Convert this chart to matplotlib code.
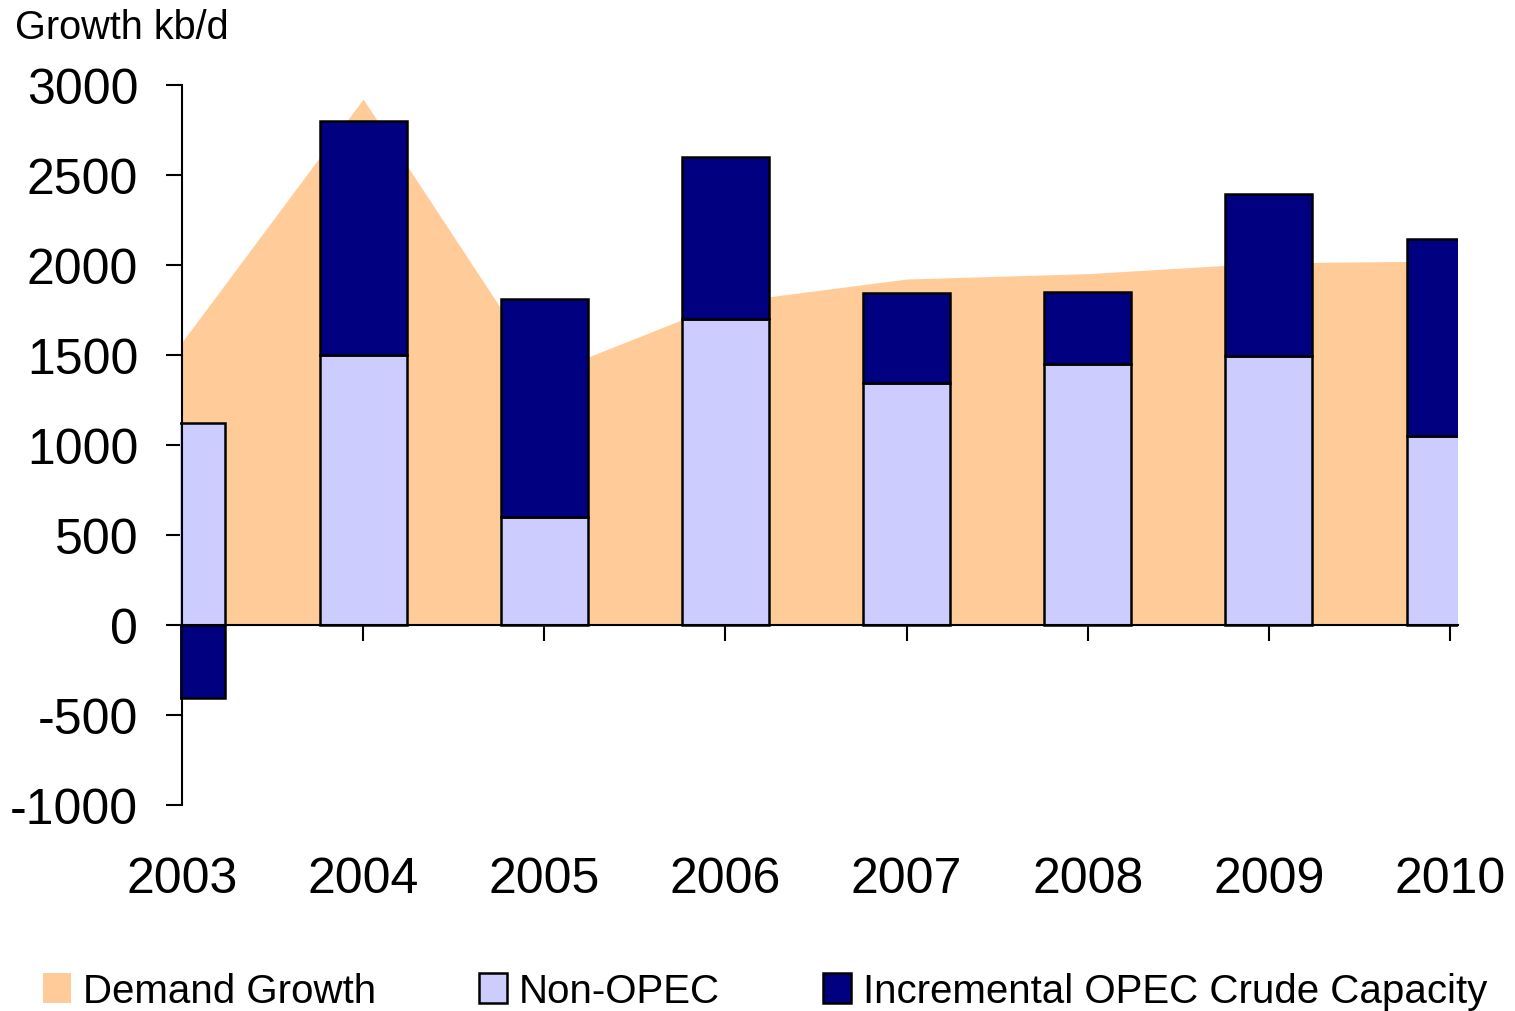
import numpy as np
import matplotlib
matplotlib.use("Agg")
import matplotlib.pyplot as plt

plt.rcParams['font.family'] = ['Liberation Sans', 'DejaVu Sans']

years = ['2003', '2004', '2005', '2006', '2007', '2008', '2009', '2010']
demand_growth = [1570, 2920, 1390, 1790, 1920, 1950, 2010, 2020]
non_opec = [1120, 1500, 600, 1700, 1340, 1450, 1490, 1050]
opec_capacity = [-405, 1300, 1210, 900, 500, 400, 900, 1090]
y_ticks = [-1000, -500, 0, 500, 1000, 1500, 2000, 2500, 3000]

fig = plt.figure(figsize=(15.15, 10.12), dpi=100)
ax = fig.add_axes([0.1187, 0.2039, 0.8438, 0.7115])

x = np.arange(len(years))
non_opec_arr = np.array(non_opec)
opec_arr = np.array(opec_capacity)
opec_bottom = np.where(opec_arr > 0, non_opec_arr, 0)

ax.fill_between(x, 0, demand_growth, color='#FFCC99', linewidth=0,
                label='Demand Growth', zorder=1)
ax.bar(x, non_opec_arr, width=0.48, color='#CCCCFF', edgecolor='black',
       linewidth=1.8, label='Non-OPEC', zorder=2)
ax.bar(x, opec_arr, width=0.48, bottom=opec_bottom, color='#000080',
       edgecolor='black', linewidth=1.8,
       label='Incremental OPEC Crude Capacity', zorder=2)

ax.set_xlim(-0.012, 7.045)
ax.set_ylim(-1000, 3000)

for s in ['top', 'right']:
    ax.spines[s].set_visible(False)
ax.spines['left'].set_position(('data', 0))
ax.spines['bottom'].set_position(('data', 0))
ax.spines['left'].set_linewidth(1.5)
ax.spines['bottom'].set_linewidth(1.5)
ax.spines['left'].set_zorder(5)
ax.spines['bottom'].set_zorder(5)

ax.set_yticks(y_ticks)
ax.set_yticklabels([str(v) for v in y_ticks])
ax.tick_params(axis='y', direction='out', length=11.5, width=1.5,
               labelsize=36, pad=20)
ax.set_xticks(x)
ax.set_xticklabels(years)
ax.tick_params(axis='x', direction='out', length=11.5, width=1.5,
               labelsize=36, pad=155)

fig.text(15 / 1515, 1 - 39 / 1012, 'Growth kb/d', fontsize=28.5,
         ha='left', va='baseline')

leg = fig.legend(loc='center', bbox_to_anchor=(0.505, 1 - 992 / 1012),
                 ncol=3, frameon=False, fontsize=29, handlelength=0.7,
                 handleheight=0.75, handletextpad=0.3, columnspacing=2.55,
                 borderaxespad=0, borderpad=0)

fig.savefig('out.png', dpi=100)
